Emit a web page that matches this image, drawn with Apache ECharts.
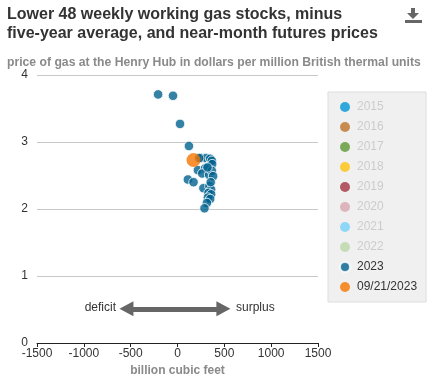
<!DOCTYPE html>
<html><head><meta charset="utf-8">
<script src="https://cdn.jsdelivr.net/npm/echarts@6/dist/echarts.min.js"></script>
<style>html,body{margin:0;padding:0;background:#fff}#c{width:446px;height:382px}</style>
</head><body><div id="c"></div>
<script>
const titleText = 'Lower 48 weekly working gas stocks, minus\nfive-year average, and near-month futures prices';
const subtitleText = 'price of gas at the Henry Hub in dollars per million British thermal units';
const xAxisName = 'billion cubic feet';
const years = ['2015','2016','2017','2018','2019','2020','2021','2022'];
const yearColors = ['#0096d7','#bd732a','#5d9732','#ffc20e','#a33340','#d8a8b0','#76d1f7','#bcd7a9'];
const series2023 = [
  [-207,3.71],[-48,3.69],[27,3.27],[122,2.94],[253,2.76],[306,2.76],[349,2.75],[367,2.72],
  [370,2.67],[218,2.58],[295,2.61],[264,2.53],[338,2.51],[367,2.57],[380,2.49],[111,2.44],
  [171,2.40],[277,2.31],[341,2.34],[359,2.29],[330,2.24],[359,2.22],[324,2.17],[349,2.15],
  [314,2.09],[288,2.01],[232,2.76],[320,2.62],[355,2.40]
];
const latestLabel = '09/21/2023';
const latestPoint = [[171,2.73]];
const arrowY = 0.51;
const arrowFrom = -545, arrowTo = 490;

const chart = echarts.init(document.getElementById('c'));
const ser = years.map((y,i)=>({name:y,type:'scatter',data:[],itemStyle:{color:yearColors[i]}}));
ser.push({name:'2023',type:'scatter',data:series2023,symbolSize:9.5,
  itemStyle:{color:'#00628f',borderColor:'#fff',borderWidth:1}});
ser.push({name:latestLabel,type:'scatter',data:latestPoint,symbolSize:14,z:5,
  itemStyle:{color:'#f57600'}});
ser.push({name:'annot',type:'scatter',data:[],silent:true,
  markLine:{silent:true,symbol:['triangle','triangle'],symbolSize:[15,14],
    label:{show:false},lineStyle:{color:'#666',width:5,type:'solid'},
    emphasis:{disabled:true},
    data:[[{coord:[arrowFrom,arrowY]},{coord:[arrowTo,arrowY]}]]}});

const legendData = years.map(y=>({name:y,textStyle:{color:'#cccccc'}}))
  .concat([{name:'2023',textStyle:{color:'#333'}},{name:latestLabel,textStyle:{color:'#333'}}]);

chart.setOption({
  animation:false,
  textStyle:{fontFamily:'Liberation Sans, Arial, sans-serif'},
  title:[{text:titleText,left:7,top:5,padding:0,textStyle:{fontSize:16,fontWeight:'bold',color:'#333',lineHeight:19}},
         {text:subtitleText,left:7,top:57,padding:0,textStyle:{fontSize:12.2,fontWeight:'bold',color:'#8a8a8a'}}],
  grid:{left:37,right:128,top:75,bottom:39},
  xAxis:{type:'value',min:-1500,max:1500,interval:500,
    name:xAxisName,nameLocation:'middle',nameGap:14,
    nameTextStyle:{color:'#8a8a8a',fontWeight:'bold',fontSize:12},
    axisLine:{show:true,lineStyle:{color:'#222',width:1}},
    axisTick:{show:true,length:4,lineStyle:{color:'#222'}},
    axisLabel:{color:'#333',fontSize:12,margin:5,formatter:v=>String(v)},splitLine:{show:false}},
  yAxis:{type:'value',min:0,max:4,interval:1,
    axisLine:{show:false},axisTick:{show:false},
    axisLabel:{color:'#333',fontSize:12,margin:9},
    splitLine:{lineStyle:{color:'#c8c8c8',width:1}}},
  legend:{orient:'vertical',left:328,top:92,itemWidth:10,itemHeight:10,itemGap:8,
    padding:[9,9,9,11],backgroundColor:'#f0f0f0',borderColor:'#dddddd',borderWidth:1,
    textStyle:{fontSize:12,color:'#333',padding:[0,0,0,2]},icon:'circle',
    selectedMode:false,data:legendData},
  graphic:[
    {type:'text',right:330,top:302,style:{text:'deficit',fill:'#333',font:'12px Liberation Sans, Arial, sans-serif'}},
    {type:'text',left:236,top:302,style:{text:'surplus',fill:'#333',font:'12px Liberation Sans, Arial, sans-serif'}},
    {type:'rect',left:405,top:20,shape:{width:17,height:3},style:{fill:'#666'}},
    {type:'polygon',shape:{points:[[411,8],[415,8],[415,13],[419,13],[413,19],[407,13],[411,13]]},style:{fill:'#666'}}
  ],
  series:ser
});
</script></body></html>
